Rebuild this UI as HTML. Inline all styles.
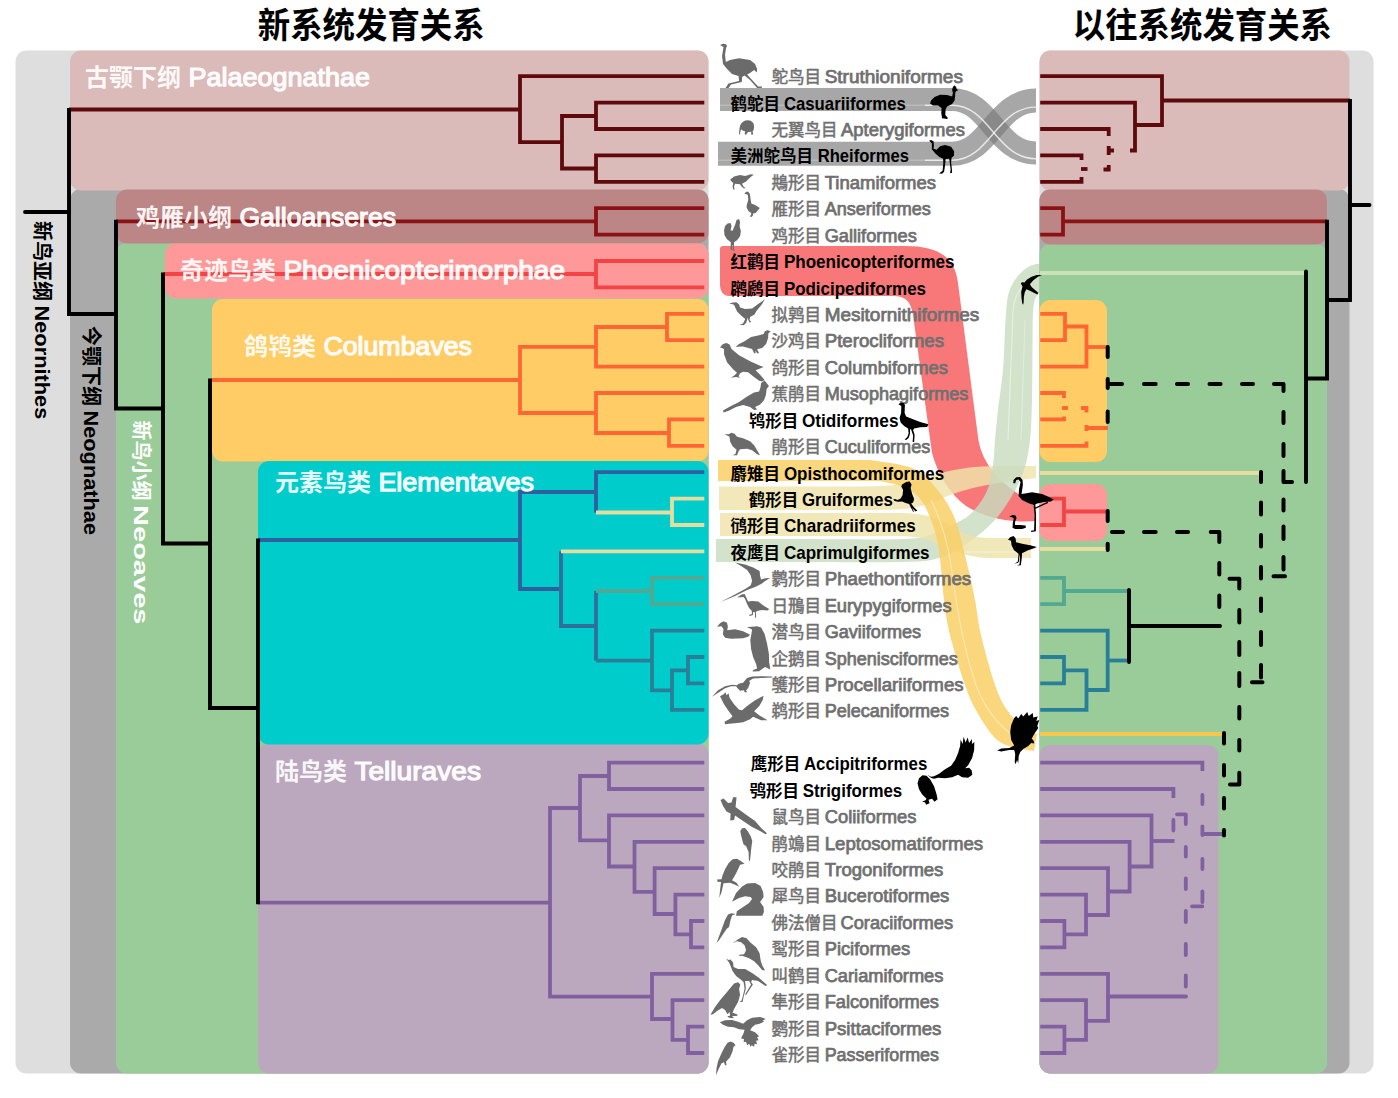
<!DOCTYPE html>
<html lang="zh"><head><meta charset="utf-8"><title>新系统发育关系 / 以往系统发育关系</title>
<style>
html,body{margin:0;padding:0;background:#fff;}
body{width:1398px;height:1098px;overflow:hidden;font-family:"Liberation Sans","Noto Sans CJK SC",sans-serif;}
svg{display:block;}
svg text{font-family:"Liberation Sans","Noto Sans CJK SC",sans-serif;}
</style></head><body>
<svg width="1398" height="1098" viewBox="0 0 1398 1098">
<g id="ribbons">
<g opacity="0.66"><path d="M720 99.5 H952 C990 99.5 996 153 1036 153" fill="none" stroke="#7a7a7a" stroke-width="23" stroke-linecap="butt" stroke-linejoin="round"/></g>
<g opacity="0.66"><path d="M718 153.7 H952 C990 153.7 996 100.5 1036 100.5" fill="none" stroke="#7a7a7a" stroke-width="24" stroke-linecap="butt" stroke-linejoin="round"/></g>
<path d="M925 105.2 H952 C990 105.2 996 158.7 1036 158.7" fill="none" stroke="#ffffff" stroke-width="1.4" stroke-linecap="butt" stroke-linejoin="round" stroke-opacity="0.75"/>
<path d="M925 160.3 H952 C990 160.3 996 107.1 1036 107.1" fill="none" stroke="#ffffff" stroke-width="1.4" stroke-linecap="butt" stroke-linejoin="round" stroke-opacity="0.75"/>
<path d="M720 105.2 H925" fill="none" stroke="#ffffff" stroke-width="1.4" stroke-linecap="butt" stroke-linejoin="round" stroke-opacity="0.22"/>
<path d="M718 160.3 H925" fill="none" stroke="#ffffff" stroke-width="1.4" stroke-linecap="butt" stroke-linejoin="round" stroke-opacity="0.22"/>
<path d="M723 246 H905 C940 246 955 258 958 283 L978 437 C981 460 995 478 1017 493 L1034 506 L1036 521 C1010 523 985 518 966 506 C950 494 938 475 932 453 L913 315 C911 301 905 296 893 296 H729 C723 296 720 291 720 284 V249 C720 247 721 246 723 246 Z" fill="#f8787a"/>
<path d="M719.0 486.5 C732.5 486.5 773.2 486.6 800.0 486.5 C826.8 486.4 860.8 486.8 880.0 486.0 C899.2 485.2 904.2 483.8 915.0 481.5 C925.8 479.2 935.0 474.4 945.0 472.0 C955.0 469.6 965.0 468.0 975.0 467.0 C985.0 466.0 994.8 466.2 1005.0 466.0 C1015.2 465.8 1030.8 466.0 1036.0 466.0 L1036.0 478.0 C1030.8 478.7 1015.2 480.4 1005.0 482.0 C994.8 483.6 984.2 485.3 975.0 487.5 C965.8 489.7 958.3 492.1 950.0 495.0 C941.7 497.9 934.2 502.6 925.0 505.0 C915.8 507.4 915.8 508.7 895.0 509.5 C874.2 510.3 829.3 509.9 800.0 510.0 C770.7 510.1 732.5 510.0 719.0 510.0 Z" fill="#efe3ab" fill-opacity="0.82"/>
<path d="M716.0 562.0 C730.0 562.0 769.3 562.0 800.0 562.0 C830.7 562.0 877.5 562.5 900.0 562.0 C922.5 561.5 924.7 561.5 935.0 559.0 C945.3 556.5 952.5 553.0 962.0 547.0 C971.5 541.0 983.8 531.3 992.0 523.0 C1000.2 514.7 1005.7 506.2 1011.0 497.4 C1016.3 488.6 1020.8 479.6 1024.0 470.0 C1027.2 460.4 1028.7 451.7 1030.0 440.0 C1031.3 428.3 1031.6 415.0 1032.0 400.0 C1032.4 385.0 1032.3 364.7 1032.5 350.0 C1032.7 335.3 1032.4 320.8 1033.0 312.0 C1033.6 303.2 1034.3 300.5 1036.0 297.0 C1037.7 293.5 1041.8 292.0 1043.0 291.0 L1043.0 263.5 C1040.8 263.9 1034.3 263.8 1030.0 266.0 C1025.7 268.2 1020.7 272.0 1017.0 277.0 C1013.3 282.0 1010.0 287.2 1008.0 296.0 C1006.0 304.8 1005.8 317.7 1005.0 330.0 C1004.2 342.3 1004.2 356.7 1003.0 370.0 C1001.8 383.3 999.3 398.3 998.0 410.0 C996.7 421.7 995.8 430.8 995.0 440.0 C994.2 449.2 994.3 456.5 993.0 465.0 C991.7 473.5 990.3 483.3 987.0 491.0 C983.7 498.7 977.7 506.3 973.0 511.4 C968.3 516.5 965.3 518.0 959.0 521.6 C952.7 525.2 944.0 530.1 935.0 533.0 C926.0 535.9 927.5 538.0 905.0 539.0 C882.5 540.0 831.5 539.0 800.0 539.0 C768.5 539.0 730.0 539.0 716.0 539.0 Z" fill="#c8dcc0" fill-opacity="0.82"/>
<path d="M1008 440 L1013 312 C1014 296 1021 284 1033 279" fill="none" stroke="#ffffff" stroke-width="1.2" stroke-linecap="butt" stroke-linejoin="round" stroke-opacity="0.45"/>
<path d="M1021 440 L1025 320" fill="none" stroke="#ffffff" stroke-width="1.0" stroke-linecap="butt" stroke-linejoin="round" stroke-opacity="0.35"/>
<g opacity="0.82"><path d="M720 524.5 H900 C925 524.5 935 530 945 535" fill="none" stroke="#efe3ab" stroke-width="23" stroke-linecap="butt" stroke-linejoin="round"/><path d="M920 527 C945 530 955 548 990 548 H1031" fill="none" stroke="#efe3ab" stroke-width="20" stroke-linecap="butt" stroke-linejoin="round"/></g>
<path d="M960 552 H1031" fill="none" stroke="#ffffff" stroke-width="1.2" stroke-linecap="butt" stroke-linejoin="round" stroke-opacity="0.45"/>
<path d="M718 460 L870.0 460.0 C877.2 461.4 902.0 463.8 913.0 468.5 C924.0 473.2 929.0 479.6 936.0 488.0 C943.0 496.4 949.7 505.7 955.0 519.0 C960.3 532.3 964.7 554.5 968.0 568.0 C971.3 581.5 972.8 588.8 975.0 600.0 C977.2 611.2 977.7 620.8 981.0 635.0 C984.3 649.2 990.7 672.5 995.0 685.0 C999.3 697.5 1002.5 703.2 1007.0 710.0 C1011.5 716.8 1017.0 722.0 1022.0 726.0 C1027.0 730.0 1034.5 732.7 1037.0 734.0 L1034.0 751.0 C1030.3 750.3 1018.5 749.2 1012.0 747.0 C1005.5 744.8 1000.8 743.8 995.0 738.0 C989.2 732.2 982.0 720.8 977.0 712.0 C972.0 703.2 969.5 697.8 965.0 685.0 C960.5 672.2 953.5 649.2 950.0 635.0 C946.5 620.8 945.5 611.2 944.0 600.0 C942.5 588.8 942.3 578.8 941.0 568.0 C939.7 557.2 939.0 545.8 936.0 535.0 C933.0 524.2 928.0 510.8 923.0 503.0 C918.0 495.2 913.2 491.7 906.0 488.0 C898.8 484.3 884.3 482.2 880.0 481.0 L718 481 Z" fill="#f9cf68" fill-opacity="0.86"/>
<path d="M931 500 C942 522 948 545 951 565 C956 600 961 640 976 685 C984 707 998 725 1015 737" fill="none" stroke="#ffffff" stroke-width="1.2" stroke-linecap="butt" stroke-linejoin="round" stroke-opacity="0.4"/>
</g>
<g id="boxes">
<rect x="15.5" y="50.5" width="693.0" height="1023.0" rx="11" fill="#dedede"/>
<rect x="70.0" y="189.0" width="638.5" height="884.5" rx="11" fill="#aaaaaa"/>
<rect x="70.0" y="50.5" width="638.5" height="140.0" rx="11" fill="#dbbaba"/>
<rect x="116.0" y="243.0" width="592.5" height="830.5" rx="11" fill="#99cc99"/>
<rect x="116.0" y="189.5" width="592.5" height="54.0" rx="11" fill="#bc8686"/>
<rect x="165.0" y="243.5" width="543.5" height="55.0" rx="11" fill="#ff9999"/>
<rect x="212.0" y="299.0" width="496.5" height="162.5" rx="11" fill="#ffcc66"/>
<rect x="258.0" y="743.5" width="450.5" height="330.0" rx="11" fill="#bca8be"/>
<rect x="258.0" y="461.0" width="450.5" height="283.5" rx="11" fill="#00cccc"/>
<rect x="1039.5" y="50.5" width="334.0" height="1023.0" rx="11" fill="#dedede"/>
<rect x="1039.5" y="189.0" width="310.0" height="884.5" rx="11" fill="#aaaaaa"/>
<rect x="1039.5" y="50.5" width="310.0" height="140.0" rx="11" fill="#dbbaba"/>
<rect x="1039.5" y="244.0" width="287.5" height="829.5" rx="11" fill="#99cc99"/>
<rect x="1039.5" y="189.5" width="287.5" height="55.0" rx="11" fill="#bc8686"/>
<rect x="1039.5" y="300.0" width="67.5" height="162.0" rx="11" fill="#ffcc66"/>
<rect x="1039.5" y="484.0" width="67.5" height="57.0" rx="11" fill="#ff9999"/>
<rect x="1039.5" y="745.0" width="179.0" height="328.5" rx="11" fill="#bca8be"/>
</g>
<g id="tree">
<path d="M69 109.5 H520" fill="none" stroke="#5e0a0c" stroke-width="3.8" stroke-linecap="butt" stroke-linejoin="miter"/>
<path d="M704.3 76.2 H520 V142.2 H562" fill="none" stroke="#5e0a0c" stroke-width="3.8" stroke-linecap="butt" stroke-linejoin="miter"/>
<path d="M596 116 H562 V168.5 H596" fill="none" stroke="#5e0a0c" stroke-width="3.8" stroke-linecap="butt" stroke-linejoin="miter"/>
<path d="M704.3 102.6 H596 V129.0 H704.3" fill="none" stroke="#5e0a0c" stroke-width="3.8" stroke-linecap="butt" stroke-linejoin="miter"/>
<path d="M704.3 155.4 H596 V181.8 H704.3" fill="none" stroke="#5e0a0c" stroke-width="3.8" stroke-linecap="butt" stroke-linejoin="miter"/>
<path d="M116 221.3 H596" fill="none" stroke="#8a1214" stroke-width="3.8" stroke-linecap="butt" stroke-linejoin="miter"/>
<path d="M704.3 208.2 H596 V234.6 H704.3" fill="none" stroke="#8a1214" stroke-width="3.8" stroke-linecap="butt" stroke-linejoin="miter"/>
<path d="M163 274 H596" fill="none" stroke="#f24444" stroke-width="3.8" stroke-linecap="butt" stroke-linejoin="miter"/>
<path d="M704.3 261.0 H596 V287.4 H704.3" fill="none" stroke="#f24444" stroke-width="3.8" stroke-linecap="butt" stroke-linejoin="miter"/>
<path d="M210 380 H520" fill="none" stroke="#ff6633" stroke-width="3.8" stroke-linecap="butt" stroke-linejoin="miter"/>
<path d="M596 346.8 H520 V413 H596" fill="none" stroke="#ff6633" stroke-width="3.8" stroke-linecap="butt" stroke-linejoin="miter"/>
<path d="M667 327 H596 V366.6 H704.3" fill="none" stroke="#ff6633" stroke-width="3.8" stroke-linecap="butt" stroke-linejoin="miter"/>
<path d="M704.3 313.8 H667 V340.2 H704.3" fill="none" stroke="#ff6633" stroke-width="3.8" stroke-linecap="butt" stroke-linejoin="miter"/>
<path d="M704.3 393.0 H596 V433 H669" fill="none" stroke="#ff6633" stroke-width="3.8" stroke-linecap="butt" stroke-linejoin="miter"/>
<path d="M704.3 419.4 H669 V445.8 H704.3" fill="none" stroke="#ff6633" stroke-width="3.8" stroke-linecap="butt" stroke-linejoin="miter"/>
<path d="M258 540 H520" fill="none" stroke="#2f5f9e" stroke-width="3.8" stroke-linecap="butt" stroke-linejoin="miter"/>
<path d="M596 492 H520 V589 H561" fill="none" stroke="#2f5f9e" stroke-width="3.8" stroke-linecap="butt" stroke-linejoin="miter"/>
<path d="M704.3 472.2 H596 V512.5" fill="none" stroke="#2f5f9e" stroke-width="3.8" stroke-linecap="butt" stroke-linejoin="miter"/>
<path d="M596 512.5 H672" fill="none" stroke="#e6dca0" stroke-width="3.8" stroke-linecap="butt" stroke-linejoin="miter"/>
<path d="M704.3 498.6 H672 V525.0 H704.3" fill="none" stroke="#e6dca0" stroke-width="3.8" stroke-linecap="butt" stroke-linejoin="miter"/>
<path d="M561 551.4 V626 H596" fill="none" stroke="#2f6f9c" stroke-width="3.8" stroke-linecap="butt" stroke-linejoin="miter"/>
<path d="M561 551.4 H704.3" fill="none" stroke="#e6dca0" stroke-width="3.8" stroke-linecap="butt" stroke-linejoin="miter"/>
<path d="M596 591 V660.6" fill="none" stroke="#2f6f9c" stroke-width="3.8" stroke-linecap="butt" stroke-linejoin="miter"/>
<path d="M596 591 H652" fill="none" stroke="#52a891" stroke-width="3.8" stroke-linecap="butt" stroke-linejoin="miter"/>
<path d="M704.3 577.8 H652 V604.2 H704.3" fill="none" stroke="#52a891" stroke-width="3.8" stroke-linecap="butt" stroke-linejoin="miter"/>
<path d="M596 660.6 H652" fill="none" stroke="#2a7f98" stroke-width="3.8" stroke-linecap="butt" stroke-linejoin="miter"/>
<path d="M704.3 630.6 H652 V690.4 H672" fill="none" stroke="#2a7f98" stroke-width="3.8" stroke-linecap="butt" stroke-linejoin="miter"/>
<path d="M688 670.3 H672 V709.8 H704.3" fill="none" stroke="#2a7f98" stroke-width="3.8" stroke-linecap="butt" stroke-linejoin="miter"/>
<path d="M704.3 657.0 H688 V683.4 H704.3" fill="none" stroke="#2a7f98" stroke-width="3.8" stroke-linecap="butt" stroke-linejoin="miter"/>
<path d="M258 902.6 H550" fill="none" stroke="#80609f" stroke-width="3.8" stroke-linecap="butt" stroke-linejoin="miter"/>
<path d="M580 808 H550 V996.7 H652" fill="none" stroke="#80609f" stroke-width="3.8" stroke-linecap="butt" stroke-linejoin="miter"/>
<path d="M609 776 H580 V840.4 H609" fill="none" stroke="#80609f" stroke-width="3.8" stroke-linecap="butt" stroke-linejoin="miter"/>
<path d="M704.3 762.6 H609 V789.0 H704.3" fill="none" stroke="#80609f" stroke-width="3.8" stroke-linecap="butt" stroke-linejoin="miter"/>
<path d="M704.3 815.4 H609 V866.5 H634.5" fill="none" stroke="#80609f" stroke-width="3.8" stroke-linecap="butt" stroke-linejoin="miter"/>
<path d="M704.3 841.8 H634.5 V891.8 H654.6" fill="none" stroke="#80609f" stroke-width="3.8" stroke-linecap="butt" stroke-linejoin="miter"/>
<path d="M704.3 868.2 H654.6 V914 H675.4" fill="none" stroke="#80609f" stroke-width="3.8" stroke-linecap="butt" stroke-linejoin="miter"/>
<path d="M704.3 894.6 H675.4 V934.3 H691" fill="none" stroke="#80609f" stroke-width="3.8" stroke-linecap="butt" stroke-linejoin="miter"/>
<path d="M704.3 921.0 H691 V947.4 H704.3" fill="none" stroke="#80609f" stroke-width="3.8" stroke-linecap="butt" stroke-linejoin="miter"/>
<path d="M704.3 973.8 H652 V1019 H672.5" fill="none" stroke="#80609f" stroke-width="3.8" stroke-linecap="butt" stroke-linejoin="miter"/>
<path d="M704.3 1000.2 H672.5 V1039.8 H688" fill="none" stroke="#80609f" stroke-width="3.8" stroke-linecap="butt" stroke-linejoin="miter"/>
<path d="M704.3 1026.6 H688 V1053.0 H704.3" fill="none" stroke="#80609f" stroke-width="3.8" stroke-linecap="butt" stroke-linejoin="miter"/>
<path d="M25 212 H69" fill="none" stroke="#000" stroke-width="3.9" stroke-linecap="round" stroke-linejoin="miter"/>
<path d="M69 108 V314 H116" fill="none" stroke="#000" stroke-width="3.9" stroke-linecap="butt" stroke-linejoin="miter"/>
<path d="M116 219.8 V408.5 H163" fill="none" stroke="#000" stroke-width="3.9" stroke-linecap="butt" stroke-linejoin="miter"/>
<path d="M163 272.5 V543.5 H210" fill="none" stroke="#000" stroke-width="3.9" stroke-linecap="butt" stroke-linejoin="miter"/>
<path d="M210 378.5 V708 H258" fill="none" stroke="#000" stroke-width="3.9" stroke-linecap="butt" stroke-linejoin="miter"/>
<path d="M258 538.5 V904.2" fill="none" stroke="#000" stroke-width="3.9" stroke-linecap="butt" stroke-linejoin="miter"/>
<path d="M1040.2 76.2 H1162 V125 H1135" fill="none" stroke="#5e0a0c" stroke-width="3.8" stroke-linecap="butt" stroke-linejoin="miter"/>
<path d="M1162 100.5 H1350" fill="none" stroke="#5e0a0c" stroke-width="3.8" stroke-linecap="butt" stroke-linejoin="miter"/>
<path d="M1040.2 102.6 H1135 V150.5 H1130" fill="none" stroke="#5e0a0c" stroke-width="3.8" stroke-linecap="butt" stroke-linejoin="miter"/>
<path d="M1040.2 129.0 H1108.7 V136" fill="none" stroke="#5e0a0c" stroke-width="3.8" stroke-linecap="butt" stroke-linejoin="miter"/>
<path d="M1108.7 146 V155 M1108.7 150.5 H1114" fill="none" stroke="#5e0a0c" stroke-width="3.8" stroke-linecap="butt" stroke-linejoin="miter"/>
<path d="M1108.7 165 V169.5 H1103.5" fill="none" stroke="#5e0a0c" stroke-width="3.8" stroke-linecap="butt" stroke-linejoin="miter"/>
<path d="M1040.2 155.4 H1081.5 V160" fill="none" stroke="#5e0a0c" stroke-width="3.8" stroke-linecap="butt" stroke-linejoin="miter"/>
<path d="M1081 169 H1087.5" fill="none" stroke="#5e0a0c" stroke-width="3.8" stroke-linecap="butt" stroke-linejoin="miter"/>
<path d="M1040.2 181.8 H1081.5 V177" fill="none" stroke="#5e0a0c" stroke-width="3.8" stroke-linecap="butt" stroke-linejoin="miter"/>
<path d="M1040.2 208.2 H1063 V234.6 H1040.2" fill="none" stroke="#8a1214" stroke-width="3.8" stroke-linecap="butt" stroke-linejoin="miter"/>
<path d="M1063 221.3 H1327" fill="none" stroke="#8a1214" stroke-width="3.8" stroke-linecap="butt" stroke-linejoin="miter"/>
<path d="M1040 273 H1305" fill="none" stroke="#c9e2b8" stroke-width="3.8" stroke-linecap="butt" stroke-linejoin="miter"/>
<path d="M1040.2 313.8 H1065 V340.2 H1040.2" fill="none" stroke="#ff6633" stroke-width="3.8" stroke-linecap="butt" stroke-linejoin="miter"/>
<path d="M1065 326.5 H1086.5 V366.6 H1040.2" fill="none" stroke="#ff6633" stroke-width="3.8" stroke-linecap="butt" stroke-linejoin="miter"/>
<path d="M1086.5 347 H1107" fill="none" stroke="#ff6633" stroke-width="3.8" stroke-linecap="butt" stroke-linejoin="miter"/>
<path d="M1040.2 393.0 H1064 V398" fill="none" stroke="#ff6633" stroke-width="3.8" stroke-linecap="butt" stroke-linejoin="miter"/>
<path d="M1040.2 419.4 H1064 V416.5" fill="none" stroke="#ff6633" stroke-width="3.8" stroke-linecap="butt" stroke-linejoin="miter"/>
<path d="M1062 408 H1068" fill="none" stroke="#ff6633" stroke-width="3.8" stroke-linecap="butt" stroke-linejoin="miter"/>
<path d="M1081 408 H1086.5 V412.5" fill="none" stroke="#ff6633" stroke-width="3.8" stroke-linecap="butt" stroke-linejoin="miter"/>
<path d="M1086.5 425 V431 M1086.5 428 H1108" fill="none" stroke="#ff6633" stroke-width="3.8" stroke-linecap="butt" stroke-linejoin="miter"/>
<path d="M1040.2 445.8 H1086.5 V441.5" fill="none" stroke="#ff6633" stroke-width="3.8" stroke-linecap="butt" stroke-linejoin="miter"/>
<path d="M1040 473 H1260" fill="none" stroke="#e6dca0" stroke-width="3.8" stroke-linecap="butt" stroke-linejoin="miter"/>
<path d="M1040 549 H1107" fill="none" stroke="#e6dca0" stroke-width="3.8" stroke-linecap="butt" stroke-linejoin="miter"/>
<path d="M1040.2 498.6 H1064 V525.0 H1040.2" fill="none" stroke="#f24444" stroke-width="3.8" stroke-linecap="butt" stroke-linejoin="miter"/>
<path d="M1064 511.5 H1107" fill="none" stroke="#f24444" stroke-width="3.8" stroke-linecap="butt" stroke-linejoin="miter"/>
<path d="M1040.2 577.8 H1064 V604.2 H1040.2" fill="none" stroke="#52a891" stroke-width="3.8" stroke-linecap="butt" stroke-linejoin="miter"/>
<path d="M1064 591 H1129" fill="none" stroke="#52a891" stroke-width="3.8" stroke-linecap="butt" stroke-linejoin="miter"/>
<path d="M1040.2 630.6 H1107.7 V690 H1086.5" fill="none" stroke="#2a7f98" stroke-width="3.8" stroke-linecap="butt" stroke-linejoin="miter"/>
<path d="M1107.7 660.5 H1129" fill="none" stroke="#2a7f98" stroke-width="3.8" stroke-linecap="butt" stroke-linejoin="miter"/>
<path d="M1040.2 657.0 H1064 V683.4 H1040.2" fill="none" stroke="#2a7f98" stroke-width="3.8" stroke-linecap="butt" stroke-linejoin="miter"/>
<path d="M1064 670.3 H1086.5 V709.8 H1040.2" fill="none" stroke="#2a7f98" stroke-width="3.8" stroke-linecap="butt" stroke-linejoin="miter"/>
<path d="M1040 734 H1223" fill="none" stroke="#f7c64e" stroke-width="3.8" stroke-linecap="butt" stroke-linejoin="miter"/>
<path d="M1040.2 762.6 H1202.4 V771" fill="none" stroke="#80609f" stroke-width="3.8" stroke-linecap="butt" stroke-linejoin="miter"/>
<path d="M1040.2 789.0 H1173.4 V798" fill="none" stroke="#80609f" stroke-width="3.8" stroke-linecap="butt" stroke-linejoin="miter"/>
<path d="M1040.2 815.4 H1151.5 V866.5 H1129.6" fill="none" stroke="#80609f" stroke-width="3.8" stroke-linecap="butt" stroke-linejoin="miter"/>
<path d="M1151.5 841 H1174.5" fill="none" stroke="#80609f" stroke-width="3.8" stroke-linecap="butt" stroke-linejoin="miter"/>
<path d="M1040.2 841.8 H1129.6 V891.5 H1108" fill="none" stroke="#80609f" stroke-width="3.8" stroke-linecap="butt" stroke-linejoin="miter"/>
<path d="M1040.2 868.2 H1108 V915 H1086" fill="none" stroke="#80609f" stroke-width="3.8" stroke-linecap="butt" stroke-linejoin="miter"/>
<path d="M1040.2 894.6 H1086 V934.3 H1064.4" fill="none" stroke="#80609f" stroke-width="3.8" stroke-linecap="butt" stroke-linejoin="miter"/>
<path d="M1040.2 921.0 H1064.4 V947.4 H1040.2" fill="none" stroke="#80609f" stroke-width="3.8" stroke-linecap="butt" stroke-linejoin="miter"/>
<path d="M1040.2 973.8 H1108 V1020.9 H1086" fill="none" stroke="#80609f" stroke-width="3.8" stroke-linecap="butt" stroke-linejoin="miter"/>
<path d="M1108 996.5 H1186" fill="none" stroke="#80609f" stroke-width="3.8" stroke-linecap="round" stroke-linejoin="miter"/>
<path d="M1040.2 1000.2 H1086 V1039.8 H1064.4" fill="none" stroke="#80609f" stroke-width="3.8" stroke-linecap="butt" stroke-linejoin="miter"/>
<path d="M1040.2 1026.6 H1064.4 V1053.0 H1040.2" fill="none" stroke="#80609f" stroke-width="3.8" stroke-linecap="butt" stroke-linejoin="miter"/>
<path d="M1202.4 795 L1202.4 804 M1202.4 826.5 L1202.4 835 M1202.4 834 L1223 834 M1202.4 859 L1202.4 869 M1202.4 891.5 L1202.4 902 M1192 906.3 L1202.4 906.3 M1173.4 820 L1173.4 830.5 M1177 814.3 L1185.8 814.3 M1185.8 814.3 L1185.8 824 M1185.8 847 L1185.8 856.5 M1185.8 878.5 L1185.8 889 M1185.8 911 L1185.8 922 M1185.8 944 L1185.8 955 M1185.8 975.5 L1185.8 986.5" fill="none" stroke="#80609f" stroke-width="3.8" stroke-linecap="round" stroke-linejoin="miter"/>
<path d="M1350 99 V300 H1327" fill="none" stroke="#000" stroke-width="3.9" stroke-linecap="butt" stroke-linejoin="miter"/>
<path d="M1350 205 H1369.5" fill="none" stroke="#000" stroke-width="3.9" stroke-linecap="round" stroke-linejoin="miter"/>
<path d="M1327 219.8 V378.5 H1306" fill="none" stroke="#000" stroke-width="3.9" stroke-linecap="butt" stroke-linejoin="miter"/>
<path d="M1306 271.5 V482" fill="none" stroke="#000" stroke-width="3.9" stroke-linecap="round" stroke-linejoin="miter"/>
<path d="M1129 590 V662" fill="none" stroke="#000" stroke-width="3.9" stroke-linecap="round" stroke-linejoin="miter"/>
<path d="M1129 626 H1220" fill="none" stroke="#000" stroke-width="3.9" stroke-linecap="round" stroke-linejoin="miter"/>
<path d="M1107.7 347 L1107.7 357 M1107.7 379 L1107.7 388 M1107.7 411.5 L1107.7 422 M1109 384 L1122 384 M1144 384 L1155.7 384 M1177 384 L1188 384 M1209.5 384 L1220.6 384 M1242 384 L1253 384 M1274 384 L1283.5 384 M1283.5 384 L1283.5 391 M1283.5 412 L1283.5 423 M1283.5 444 L1283.5 456 M1283.5 471 L1283.5 482 M1283.5 482 L1292 482 M1283.5 499.5 L1283.5 510.5 M1283.5 526.5 L1283.5 539 M1283.5 557 L1283.5 569.5 M1273.5 576.3 L1285 576.3 M1261 472 L1261 482 M1261 502.5 L1261 514.5 M1261 535 L1261 546.5 M1261 567 L1261 578.5 M1261 598.5 L1261 611 M1261 632 L1261 645 M1261 665 L1261 677.5 M1252 682.3 L1262.5 682.3 M1239.3 578.8 L1239.3 588.5 M1229.5 578.8 L1239.3 578.8 M1239.3 610 L1239.3 622.4 M1239.3 642 L1239.3 655 M1239.3 673 L1239.3 686 M1239.3 707 L1239.3 718.4 M1239.3 740 L1239.3 750.6 M1239.3 772.8 L1239.3 784.5 M1230 784.5 L1239.3 784.5 M1219.3 532 L1219.3 542 M1210.7 532 L1219.3 532 M1219.3 563 L1219.3 574.4 M1219.3 595.6 L1219.3 607 M1112 532 L1123 532 M1144 532 L1155.7 532 M1177 532 L1188 532 M1107.7 511 L1107.7 521 M1107.7 543.7 L1107.7 550 M1224 733 L1224 743.6 M1224 765 L1224 775.4 M1224 798 L1224 808.4 M1224 830 L1224 835.5" fill="none" stroke="#000" stroke-width="4.0" stroke-linecap="round" stroke-linejoin="miter"/>
</g>
<g id="labels">
<text x="771.4" y="83.1" font-size="16.5" fill="#707070" stroke="#707070" stroke-width="0.5">鸵鸟目</text>
<text x="824.7" y="83.1" font-size="17.490000000000002" font-weight="normal" fill="#707070" textLength="138.2" lengthAdjust="spacingAndGlyphs" stroke="#707070" stroke-width="0.75">Struthioniformes</text>
<text x="730.5" y="109.5" font-size="16.5" font-weight="bold" fill="#000">鹤鸵目</text>
<text x="783.9" y="109.5" font-size="17.490000000000002" font-weight="bold" fill="#000" textLength="121.9" lengthAdjust="spacingAndGlyphs">Casuariiformes</text>
<text x="771.4" y="136.0" font-size="16.5" fill="#707070" stroke="#707070" stroke-width="0.5">无翼鸟目</text>
<text x="841.0" y="136.0" font-size="17.490000000000002" font-weight="normal" fill="#707070" textLength="123.9" lengthAdjust="spacingAndGlyphs" stroke="#707070" stroke-width="0.75">Apterygiformes</text>
<text x="730.5" y="162.4" font-size="16.5" font-weight="bold" fill="#000">美洲鸵鸟目</text>
<text x="817.7" y="162.4" font-size="17.490000000000002" font-weight="bold" fill="#000" textLength="91.3" lengthAdjust="spacingAndGlyphs">Rheiformes</text>
<text x="771.4" y="188.8" font-size="16.5" fill="#707070" stroke="#707070" stroke-width="0.5">䳍形目</text>
<text x="824.7" y="188.8" font-size="17.490000000000002" font-weight="normal" fill="#707070" textLength="111.4" lengthAdjust="spacingAndGlyphs" stroke="#707070" stroke-width="0.75">Tinamiformes</text>
<text x="771.4" y="215.2" font-size="16.5" fill="#707070" stroke="#707070" stroke-width="0.5">雁形目</text>
<text x="824.7" y="215.2" font-size="17.490000000000002" font-weight="normal" fill="#707070" textLength="106.1" lengthAdjust="spacingAndGlyphs" stroke="#707070" stroke-width="0.75">Anseriformes</text>
<text x="771.4" y="241.7" font-size="16.5" fill="#707070" stroke="#707070" stroke-width="0.5">鸡形目</text>
<text x="824.7" y="241.7" font-size="17.490000000000002" font-weight="normal" fill="#707070" textLength="92.1" lengthAdjust="spacingAndGlyphs" stroke="#707070" stroke-width="0.75">Galliformes</text>
<text x="730.5" y="268.1" font-size="16.5" font-weight="bold" fill="#000">红鹳目</text>
<text x="783.9" y="268.1" font-size="17.490000000000002" font-weight="bold" fill="#000" textLength="170.7" lengthAdjust="spacingAndGlyphs">Phoenicopteriformes</text>
<text x="730.5" y="294.5" font-size="16.5" font-weight="bold" fill="#000">䴙䴘目</text>
<text x="783.9" y="294.5" font-size="17.490000000000002" font-weight="bold" fill="#000" textLength="142.1" lengthAdjust="spacingAndGlyphs">Podicipediformes</text>
<text x="771.4" y="321.0" font-size="16.5" fill="#707070" stroke="#707070" stroke-width="0.5">拟鹑目</text>
<text x="824.7" y="321.0" font-size="17.490000000000002" font-weight="normal" fill="#707070" textLength="154.5" lengthAdjust="spacingAndGlyphs" stroke="#707070" stroke-width="0.75">Mesitornithiformes</text>
<text x="771.4" y="347.4" font-size="16.5" fill="#707070" stroke="#707070" stroke-width="0.5">沙鸡目</text>
<text x="824.7" y="347.4" font-size="17.490000000000002" font-weight="normal" fill="#707070" textLength="119.4" lengthAdjust="spacingAndGlyphs" stroke="#707070" stroke-width="0.75">Pterocliformes</text>
<text x="771.4" y="373.8" font-size="16.5" fill="#707070" stroke="#707070" stroke-width="0.5">鸽形目</text>
<text x="824.7" y="373.8" font-size="17.490000000000002" font-weight="normal" fill="#707070" textLength="123.2" lengthAdjust="spacingAndGlyphs" stroke="#707070" stroke-width="0.75">Columbiformes</text>
<text x="771.4" y="400.3" font-size="16.5" fill="#707070" stroke="#707070" stroke-width="0.5">蕉鹃目</text>
<text x="824.7" y="400.3" font-size="17.490000000000002" font-weight="normal" fill="#707070" textLength="143.7" lengthAdjust="spacingAndGlyphs" stroke="#707070" stroke-width="0.75">Musophagiformes</text>
<text x="748.8" y="426.7" font-size="16.5" font-weight="bold" fill="#000">鸨形目</text>
<text x="801.9" y="426.7" font-size="17.490000000000002" font-weight="bold" fill="#000" textLength="96.6" lengthAdjust="spacingAndGlyphs">Otidiformes</text>
<text x="771.4" y="453.1" font-size="16.5" fill="#707070" stroke="#707070" stroke-width="0.5">鹃形目</text>
<text x="824.7" y="453.1" font-size="17.490000000000002" font-weight="normal" fill="#707070" textLength="105.6" lengthAdjust="spacingAndGlyphs" stroke="#707070" stroke-width="0.75">Cuculiformes</text>
<text x="730.5" y="479.5" font-size="16.5" font-weight="bold" fill="#000">麝雉目</text>
<text x="783.9" y="479.5" font-size="17.490000000000002" font-weight="bold" fill="#000" textLength="160.2" lengthAdjust="spacingAndGlyphs">Opisthocomiformes</text>
<text x="748.8" y="506.0" font-size="16.5" font-weight="bold" fill="#000">鹤形目</text>
<text x="801.9" y="506.0" font-size="17.490000000000002" font-weight="bold" fill="#000" textLength="90.9" lengthAdjust="spacingAndGlyphs">Gruiformes</text>
<text x="730.5" y="532.4" font-size="16.5" font-weight="bold" fill="#000">鸻形目</text>
<text x="783.9" y="532.4" font-size="17.490000000000002" font-weight="bold" fill="#000" textLength="131.9" lengthAdjust="spacingAndGlyphs">Charadriiformes</text>
<text x="730.5" y="558.8" font-size="16.5" font-weight="bold" fill="#000">夜鹰目</text>
<text x="783.9" y="558.8" font-size="17.490000000000002" font-weight="bold" fill="#000" textLength="145.7" lengthAdjust="spacingAndGlyphs">Caprimulgiformes</text>
<text x="771.4" y="585.3" font-size="16.5" fill="#707070" stroke="#707070" stroke-width="0.5">鹲形目</text>
<text x="824.7" y="585.3" font-size="17.490000000000002" font-weight="normal" fill="#707070" textLength="146.5" lengthAdjust="spacingAndGlyphs" stroke="#707070" stroke-width="0.75">Phaethontiformes</text>
<text x="771.4" y="611.7" font-size="16.5" fill="#707070" stroke="#707070" stroke-width="0.5">日鳽目</text>
<text x="824.7" y="611.7" font-size="17.490000000000002" font-weight="normal" fill="#707070" textLength="126.9" lengthAdjust="spacingAndGlyphs" stroke="#707070" stroke-width="0.75">Eurypygiformes</text>
<text x="771.4" y="638.1" font-size="16.5" fill="#707070" stroke="#707070" stroke-width="0.5">潜鸟目</text>
<text x="824.7" y="638.1" font-size="17.490000000000002" font-weight="normal" fill="#707070" textLength="96.4" lengthAdjust="spacingAndGlyphs" stroke="#707070" stroke-width="0.75">Gaviiformes</text>
<text x="771.4" y="664.6" font-size="16.5" fill="#707070" stroke="#707070" stroke-width="0.5">企鹅目</text>
<text x="824.7" y="664.6" font-size="17.490000000000002" font-weight="normal" fill="#707070" textLength="133.2" lengthAdjust="spacingAndGlyphs" stroke="#707070" stroke-width="0.75">Sphenisciformes</text>
<text x="771.4" y="691.0" font-size="16.5" fill="#707070" stroke="#707070" stroke-width="0.5">鹱形目</text>
<text x="824.7" y="691.0" font-size="17.490000000000002" font-weight="normal" fill="#707070" textLength="138.9" lengthAdjust="spacingAndGlyphs" stroke="#707070" stroke-width="0.75">Procellariiformes</text>
<text x="771.4" y="717.4" font-size="16.5" fill="#707070" stroke="#707070" stroke-width="0.5">鹈形目</text>
<text x="824.7" y="717.4" font-size="17.490000000000002" font-weight="normal" fill="#707070" textLength="124.4" lengthAdjust="spacingAndGlyphs" stroke="#707070" stroke-width="0.75">Pelecaniformes</text>
<text x="750.8" y="770.3" font-size="16.5" font-weight="bold" fill="#000">鹰形目</text>
<text x="803.9" y="770.3" font-size="17.490000000000002" font-weight="bold" fill="#000" textLength="123.4" lengthAdjust="spacingAndGlyphs">Accipitriformes</text>
<text x="749.6" y="796.7" font-size="16.5" font-weight="bold" fill="#000">鸮形目</text>
<text x="802.7" y="796.7" font-size="17.490000000000002" font-weight="bold" fill="#000" textLength="99.6" lengthAdjust="spacingAndGlyphs">Strigiformes</text>
<text x="771.4" y="823.1" font-size="16.5" fill="#707070" stroke="#707070" stroke-width="0.5">鼠鸟目</text>
<text x="824.7" y="823.1" font-size="17.490000000000002" font-weight="normal" fill="#707070" textLength="91.8" lengthAdjust="spacingAndGlyphs" stroke="#707070" stroke-width="0.75">Coliiformes</text>
<text x="771.4" y="849.6" font-size="16.5" fill="#707070" stroke="#707070" stroke-width="0.5">鹃鴗目</text>
<text x="824.7" y="849.6" font-size="17.490000000000002" font-weight="normal" fill="#707070" textLength="158.4" lengthAdjust="spacingAndGlyphs" stroke="#707070" stroke-width="0.75">Leptosomatiformes</text>
<text x="771.4" y="876.0" font-size="16.5" fill="#707070" stroke="#707070" stroke-width="0.5">咬鹃目</text>
<text x="824.7" y="876.0" font-size="17.490000000000002" font-weight="normal" fill="#707070" textLength="118.7" lengthAdjust="spacingAndGlyphs" stroke="#707070" stroke-width="0.75">Trogoniformes</text>
<text x="771.4" y="902.4" font-size="16.5" fill="#707070" stroke="#707070" stroke-width="0.5">犀鸟目</text>
<text x="824.7" y="902.4" font-size="17.490000000000002" font-weight="normal" fill="#707070" textLength="124.5" lengthAdjust="spacingAndGlyphs" stroke="#707070" stroke-width="0.75">Bucerotiformes</text>
<text x="771.4" y="928.9" font-size="16.5" fill="#707070" stroke="#707070" stroke-width="0.5">佛法僧目</text>
<text x="840.5" y="928.9" font-size="17.490000000000002" font-weight="normal" fill="#707070" textLength="112.5" lengthAdjust="spacingAndGlyphs" stroke="#707070" stroke-width="0.75">Coraciiformes</text>
<text x="771.4" y="955.3" font-size="16.5" fill="#707070" stroke="#707070" stroke-width="0.5">䴕形目</text>
<text x="824.7" y="955.3" font-size="17.490000000000002" font-weight="normal" fill="#707070" textLength="85.4" lengthAdjust="spacingAndGlyphs" stroke="#707070" stroke-width="0.75">Piciformes</text>
<text x="771.4" y="981.7" font-size="16.5" fill="#707070" stroke="#707070" stroke-width="0.5">叫鹤目</text>
<text x="824.7" y="981.7" font-size="17.490000000000002" font-weight="normal" fill="#707070" textLength="118.7" lengthAdjust="spacingAndGlyphs" stroke="#707070" stroke-width="0.75">Cariamiformes</text>
<text x="771.4" y="1008.1" font-size="16.5" fill="#707070" stroke="#707070" stroke-width="0.5">隼形目</text>
<text x="824.7" y="1008.1" font-size="17.490000000000002" font-weight="normal" fill="#707070" textLength="114.3" lengthAdjust="spacingAndGlyphs" stroke="#707070" stroke-width="0.75">Falconiformes</text>
<text x="771.4" y="1034.6" font-size="16.5" fill="#707070" stroke="#707070" stroke-width="0.5">鹦形目</text>
<text x="824.7" y="1034.6" font-size="17.490000000000002" font-weight="normal" fill="#707070" textLength="116.7" lengthAdjust="spacingAndGlyphs" stroke="#707070" stroke-width="0.75">Psittaciformes</text>
<text x="771.4" y="1061.0" font-size="16.5" fill="#707070" stroke="#707070" stroke-width="0.5">雀形目</text>
<text x="824.7" y="1061.0" font-size="17.490000000000002" font-weight="normal" fill="#707070" textLength="114.3" lengthAdjust="spacingAndGlyphs" stroke="#707070" stroke-width="0.75">Passeriformes</text>
<text x="85.0" y="85.5" font-size="24" font-weight="bold" fill="#fff" fill-opacity="0.93">古颚下纲</text>
<text x="188.4" y="85.5" font-size="25.44" font-weight="normal" fill="#fff" textLength="181.6" lengthAdjust="spacingAndGlyphs" fill-opacity="0.93" stroke="#fff" stroke-width="1.25" stroke-opacity="0.93">Palaeognathae</text>
<text x="136.0" y="226.0" font-size="24" font-weight="bold" fill="#fff" fill-opacity="0.93">鸡雁小纲</text>
<text x="239.4" y="226.0" font-size="25.44" font-weight="normal" fill="#fff" textLength="156.6" lengthAdjust="spacingAndGlyphs" fill-opacity="0.93" stroke="#fff" stroke-width="1.25" stroke-opacity="0.93">Galloanseres</text>
<text x="180.0" y="279.0" font-size="24" font-weight="bold" fill="#fff" fill-opacity="0.93">奇迹鸟类</text>
<text x="283.4" y="279.0" font-size="25.44" font-weight="normal" fill="#fff" textLength="281.6" lengthAdjust="spacingAndGlyphs" fill-opacity="0.93" stroke="#fff" stroke-width="1.25" stroke-opacity="0.93">Phoenicopterimorphae</text>
<text x="244.0" y="355.0" font-size="24" font-weight="bold" fill="#fff" fill-opacity="0.93">鸽鸨类</text>
<text x="323.4" y="355.0" font-size="25.44" font-weight="normal" fill="#fff" textLength="148.6" lengthAdjust="spacingAndGlyphs" fill-opacity="0.93" stroke="#fff" stroke-width="1.25" stroke-opacity="0.93">Columbaves</text>
<text x="275.0" y="491.0" font-size="24" font-weight="bold" fill="#fff" fill-opacity="0.93">元素鸟类</text>
<text x="378.4" y="491.0" font-size="25.44" font-weight="normal" fill="#fff" textLength="155.6" lengthAdjust="spacingAndGlyphs" fill-opacity="0.93" stroke="#fff" stroke-width="1.25" stroke-opacity="0.93">Elementaves</text>
<text x="275.0" y="780.0" font-size="24" font-weight="bold" fill="#fff" fill-opacity="0.93">陆鸟类</text>
<text x="354.4" y="780.0" font-size="25.44" font-weight="normal" fill="#fff" textLength="126.6" lengthAdjust="spacingAndGlyphs" fill-opacity="0.93" stroke="#fff" stroke-width="1.25" stroke-opacity="0.93">Telluraves</text>
<text transform="translate(257.8 38.4) scale(1 1.08)" font-size="32.4" font-weight="bold" fill="#000">新系统发育关系</text>
<text transform="translate(1072.8 38.4) scale(1 1.08)" font-size="32.4" font-weight="bold" fill="#000">以往系统发育关系</text>
<text transform="translate(35.4 305.5) rotate(90)" font-size="20" font-weight="bold" fill="#000" textLength="113.8" lengthAdjust="spacingAndGlyphs">Neornithes</text>
<text transform="translate(35.4 221.0) rotate(90)" font-size="20" font-weight="bold" fill="#000">新鸟亚纲</text>
<text transform="translate(84.4 410.5) rotate(90)" font-size="20" font-weight="bold" fill="#000" textLength="124.5" lengthAdjust="spacingAndGlyphs">Neognathae</text>
<text transform="translate(84.4 326.0) rotate(90)" font-size="20" font-weight="bold" fill="#000">今颚下纲</text>
<text transform="translate(133.9 505.0) rotate(90)" font-size="20" font-weight="bold" fill="#fff" textLength="119.5" lengthAdjust="spacingAndGlyphs">Neoaves</text>
<text transform="translate(133.9 420.5) rotate(90)" font-size="20" font-weight="bold" fill="#fff">新鸟小纲</text>
</g>
<g id="birds">
<path transform="translate(710 35) scale(0.10020)" fill="#6b6b6b" d="M100,100 L130,88 L160,92 L170,110 L160,130 L150,200 L158,270 L200,250 L290,232 L400,250 L450,290 L470,340 L468,375 L440,350 L400,380 L370,395 L420,450 L480,515 L520,515 L515,530 L470,528 L400,450 L345,405 L320,420 L318,470 L210,495 L185,530 L155,528 L185,485 L290,460 L285,410 L220,390 L170,340 L130,290 L120,210 L135,120 Z"/>
<path transform="translate(710 35) scale(0.10020)" fill="#6b6b6b" d="M300,905 Q320,850 380,850 Q440,855 440,915 Q440,950 425,960 L432,992 L410,992 L412,965 L380,968 L360,995 L345,990 L352,962 Q320,955 310,940 L295,995 L288,990 L295,930 Z"/>
<path transform="translate(900 75) scale(0.10020)" fill="#000" d="M545,103 L560,120 L565,140 L582,153 L562,160 L552,175 L550,215 L545,255 L520,290 L470,315 L455,345 L452,400 L478,428 L470,440 L420,432 L412,380 L415,330 L380,305 L330,305 L300,285 L310,255 L345,220 L400,198 L470,200 L520,215 L528,180 L520,150 L528,120 Z"/>
<path transform="translate(900 75) scale(0.10020)" fill="#000" d="M290,655 L310,648 L335,660 L338,700 L335,735 L365,745 L400,710 L450,698 L510,715 L540,760 L538,805 L515,825 L510,870 L518,940 L520,975 L500,980 L505,940 L495,860 L490,835 L455,838 L450,900 L440,965 L420,985 L390,982 L425,955 L432,880 L430,835 L390,815 L350,780 L318,740 L318,680 Z"/>
<path transform="translate(710 165) scale(0.10020)" fill="#6b6b6b" d="M200,148 L240,115 L300,100 L350,110 L385,100 L405,92 L438,97 L415,112 L390,135 L360,165 L320,188 L330,210 L352,230 L340,235 L312,212 L300,192 L250,188 L240,215 L245,245 L232,245 L225,215 L232,182 Z"/>
<path transform="translate(710 165) scale(0.10020)" fill="#6b6b6b" d="M343,287 L360,268 L382,268 L398,290 L405,340 L412,385 L450,400 L497,428 L480,450 L455,478 L430,485 L428,505 L415,520 L395,512 L410,498 L412,480 L385,462 L365,425 L368,395 L382,350 L378,300 L365,292 Z"/>
<path transform="translate(710 165) scale(0.10020)" fill="#6b6b6b" d="M140,650 L150,610 L175,585 L205,580 L215,610 L205,650 L225,655 L250,600 L265,550 L290,540 L300,570 L295,610 L308,660 L300,710 L270,750 L240,770 L238,840 L250,855 L225,850 L228,800 L222,800 L218,845 L205,850 L208,770 L170,740 L145,700 Z"/>
<path transform="translate(710 290) scale(0.10020)" fill="#6b6b6b" d="M190,133 L230,125 L265,122 L290,145 L300,175 L350,190 L420,185 L480,140 L548,93 L520,140 L460,215 L445,245 L400,270 L395,300 L412,320 L395,325 L380,295 L378,275 L360,330 L335,352 L295,345 L330,335 L352,290 L310,255 L270,215 L250,170 L240,148 Z"/>
<path transform="translate(710 290) scale(0.10020)" fill="#6b6b6b" d="M605,412 L575,402 L550,408 L535,440 L480,455 L410,470 L340,515 L290,540 L255,567 L330,565 L420,590 L440,630 L455,632 L452,605 L470,632 L490,632 L470,592 L520,580 L560,540 L580,480 L582,435 Z"/>
<path transform="translate(710 290) scale(0.10020)" fill="#6b6b6b" d="M100,572 L130,540 L165,528 L195,545 L215,590 L290,650 L400,710 L500,755 L535,768 L480,790 L455,800 L500,845 L545,898 L520,912 L490,905 L430,860 L380,822 L330,815 L300,830 L285,860 L300,875 L260,868 L210,875 L245,850 L270,825 L230,790 L170,720 L140,640 L140,590 Z"/>
<path transform="translate(710 370) scale(0.10020)" fill="#6b6b6b" d="M545,105 L588,160 L565,190 L558,250 L540,300 L500,345 L450,370 L470,395 L440,400 L400,370 L330,350 L260,370 L180,410 L135,425 L130,405 L200,365 L290,320 L370,265 L440,225 L490,215 L505,170 L510,130 Z"/>
<path transform="translate(710 370) scale(0.10020)" fill="#6b6b6b" d="M145,640 L185,640 L215,625 L245,635 L270,665 L330,680 L400,710 L440,750 L470,800 L500,850 L470,840 L420,800 L370,785 L300,790 L285,810 L270,850 L225,850 L255,835 L265,795 L225,760 L200,710 L195,665 Z"/>
<path transform="translate(850 395) scale(0.10020)" fill="#000" d="M483,92 L505,78 L535,80 L548,100 L545,180 L560,215 L610,235 L700,270 L782,292 L770,320 L700,322 L640,335 L630,350 L645,400 L640,470 L625,470 L630,405 L610,345 L600,340 L598,390 L585,430 L560,450 L545,445 L572,420 L585,385 L580,335 L540,310 L505,275 L495,230 L510,180 L512,110 Z"/>
<path transform="translate(850 465) scale(0.10020)" fill="#000" d="M520,195 L560,170 L595,165 L615,195 L605,230 L620,290 L640,340 L630,375 L610,385 L640,425 L672,455 L655,465 L620,430 L640,470 L628,465 L590,390 L555,380 L520,365 L480,368 L445,360 L430,345 L450,340 L475,350 L505,335 L525,300 L530,250 L512,215 Z"/>
<path transform="translate(980 240) scale(0.05737)" fill="#000" d="M712,748 L740,735 L775,742 L820,690 L900,640 L990,612 L1082,608 L1010,640 L930,700 L870,770 L900,820 L960,870 L1015,920 L1000,950 L940,920 L870,885 L810,860 L780,910 L765,990 L760,1098 L750,1130 L735,1098 L722,1000 L718,900 L740,810 L722,775 Z"/>
<path transform="translate(990 465) scale(0.10020)" fill="#000" d="M232,180 L235,150 L262,122 L300,120 L325,150 L328,200 L315,290 L350,285 L420,272 L520,290 L600,325 L635,345 L610,365 L540,370 L470,385 L452,395 L460,500 L458,660 L410,668 L410,655 L440,650 L445,500 L435,400 L380,380 L320,350 L285,310 L290,240 L305,170 L285,145 L262,150 L250,185 Z M440,430 L575,368 L580,378 L450,440 Z"/>
<path transform="translate(990 465) scale(0.10020)" fill="#000" d="M192,514 L225,500 L255,505 L265,530 L250,570 L250,600 L300,598 L355,605 L358,625 L320,638 L250,638 L225,625 L228,575 L238,535 L220,522 Z"/>
<path transform="translate(990 465) scale(0.10020)" fill="#000" d="M180,745 L200,720 L235,708 L255,730 L260,770 L320,785 L400,800 L468,818 L440,832 L380,850 L320,880 L318,920 L308,1000 L270,1003 L295,990 L300,920 L295,890 L290,960 L280,975 L245,985 L278,962 L285,885 L240,850 L215,800 L210,755 Z"/>
<path transform="translate(905 700) scale(0.10020)" fill="#000" d="M920,505 L960,485 L1040,478 L1090,455 L1060,400 L1050,320 L1060,250 L1090,180 L1110,160 L1130,185 L1160,140 L1180,165 L1220,120 L1235,160 L1275,130 L1280,175 L1325,165 L1310,210 L1340,200 L1320,260 L1330,280 L1290,340 L1265,385 L1285,410 L1290,435 L1260,430 L1230,460 L1180,490 L1150,520 L1135,560 L1130,630 L1118,600 L1105,640 L1095,620 L1100,540 L1090,500 L1040,500 L960,515 Z"/>
<path transform="translate(905 700) scale(0.10020)" fill="#000" d="M222,745 L260,765 L290,760 L340,735 L400,690 L460,655 L500,600 L530,530 L550,460 L555,395 L575,440 L585,368 L605,425 L625,375 L640,430 L668,390 L668,440 L692,420 L690,500 L670,580 L630,650 L600,680 L640,675 L665,700 L672,745 L630,775 L570,770 L530,745 L470,770 L400,780 L330,775 L290,785 L262,778 Z"/>
<path transform="translate(905 700) scale(0.10020)" fill="#000" d="M125,830 L140,780 L175,750 L215,755 L250,790 L290,860 L315,940 L325,990 L295,1015 L270,985 L235,995 L245,1030 L210,1045 L200,1020 L170,1015 L205,1000 L215,985 L170,940 L140,890 Z"/>
<path transform="translate(705 555) scale(0.10020)" fill="#6b6b6b" d="M300,75 L400,95 L480,125 L545,160 L550,210 L560,245 L600,232 L650,230 L600,260 L560,290 L500,320 L420,350 L300,410 L150,472 L290,400 L400,340 L455,305 L470,260 L455,200 L420,150 L360,110 Z"/>
<path transform="translate(705 555) scale(0.10020)" fill="#6b6b6b" d="M320,425 L365,395 L395,390 L410,420 L430,465 L470,460 L530,465 L590,510 L640,540 L625,555 L570,550 L520,560 L508,570 L510,625 L500,625 L498,572 L480,568 L478,598 L445,608 L440,600 L468,590 L468,560 L440,530 L420,490 L400,440 L385,420 Z"/>
<path transform="translate(705 555) scale(0.10020)" fill="#6b6b6b" d="M120,717 L150,680 L185,660 L220,675 L228,715 L222,750 L300,742 L380,760 L450,795 L430,815 L380,832 L260,835 L200,825 L178,790 L185,740 L165,712 Z"/>
<path transform="translate(705 620) scale(0.10020)" fill="#6b6b6b" d="M418,70 L470,68 L520,62 L560,75 L595,140 L620,240 L638,340 L640,420 L652,495 L600,470 L570,490 L540,512 L475,515 L480,498 L520,485 L510,440 L480,370 L460,290 L452,200 L465,130 L470,95 Z"/>
<path transform="translate(705 620) scale(0.10020)" fill="#6b6b6b" d="M70,765 L130,700 L200,660 L270,645 L320,650 L335,635 L380,625 L420,580 L470,565 L560,562 L670,563 L670,575 L560,578 L480,585 L440,610 L450,625 L430,680 L410,700 L420,720 L395,722 L390,700 L350,705 L325,680 L310,662 L260,662 L200,680 L140,720 Z"/>
<path transform="translate(705 620) scale(0.10020)" fill="#6b6b6b" d="M150,760 L185,740 L205,720 L215,750 L235,730 L245,775 L290,840 L340,895 L370,900 L430,850 L500,800 L585,755 L575,800 L540,860 L490,910 L540,950 L625,1000 L560,1000 L480,965 L450,990 L380,1020 L300,1030 L240,1035 L200,1040 L195,1015 L250,985 L275,960 L230,900 L190,840 L165,790 Z"/>
<path transform="translate(705 790) scale(0.10020)" fill="#6b6b6b" d="M155,100 L185,85 L230,130 L265,125 L280,72 L315,72 L305,170 L400,240 L500,310 L560,380 L618,432 L605,442 L540,405 L470,370 L380,310 L300,255 L290,300 L252,305 L255,235 L215,215 L180,160 Z"/>
<path transform="translate(705 790) scale(0.10020)" fill="#6b6b6b" d="M352,410 L370,382 L400,378 L425,410 L455,460 L472,510 L462,580 L455,650 L448,712 L438,700 L435,620 L410,560 L385,545 L372,500 L360,450 Z"/>
<path transform="translate(705 790) scale(0.10020)" fill="#6b6b6b" d="M395,735 L360,710 L320,685 L275,692 L235,730 L200,790 L175,850 L165,890 L120,893 L125,915 L160,918 L150,1000 L143,1075 L165,1020 L185,930 L250,925 L300,945 L340,965 L315,925 L270,900 L300,850 L330,790 L350,745 Z"/>
<path transform="translate(705 870) scale(0.10020)" fill="#6b6b6b" d="M270,318 L310,230 L370,165 L420,135 L500,130 L555,160 L580,220 L585,270 L550,320 L585,370 L588,420 L572,457 L310,457 L318,412 L380,370 L440,330 L470,290 L455,270 L400,262 L340,280 Z"/>
<path transform="translate(705 870) scale(0.10020)" fill="#6b6b6b" d="M115,728 L160,610 L200,500 L230,445 L260,432 L305,440 L270,455 L255,500 L240,570 L215,590 L180,640 L140,700 Z"/>
<path transform="translate(705 870) scale(0.10020)" fill="#6b6b6b" d="M280,730 L330,690 L370,668 L415,680 L450,720 L510,770 L545,830 L555,900 L570,950 L600,1003 L570,998 L530,950 L490,910 L440,880 L400,865 L370,855 L340,858 L345,845 L390,840 L410,800 L395,750 L360,720 L320,712 Z"/>
<path transform="translate(705 950) scale(0.10020)" fill="#6b6b6b" d="M210,85 L235,100 L255,95 L280,125 L285,170 L330,190 L400,190 L470,230 L540,280 L620,350 L605,360 L530,310 L470,300 L460,320 L478,345 L410,450 L400,445 L460,345 L440,310 L400,310 L408,385 L385,470 L375,520 L345,520 L365,505 L378,460 L395,385 L385,320 L350,290 L310,260 L275,210 L255,160 L240,125 Z"/>
<path transform="translate(705 950) scale(0.10020)" fill="#6b6b6b" d="M290,335 L330,322 L352,345 L340,390 L350,450 L330,520 L290,590 L275,625 L320,640 L325,655 L270,660 L290,680 L240,675 L222,660 L250,655 L245,620 L225,640 L200,600 L170,580 L120,610 L80,640 L55,645 L100,570 L160,490 L220,420 L265,365 Z"/>
<path transform="translate(705 950) scale(0.10020)" fill="#6b6b6b" d="M148,722 L200,700 L270,698 L330,715 L380,735 L420,700 L470,675 L550,668 L605,688 L575,705 L590,715 L545,735 L500,745 L470,770 L450,800 L500,820 L540,860 L520,870 L535,900 L510,905 L520,940 L495,935 L490,965 L465,950 L455,965 L440,935 L420,950 L410,915 L385,920 L390,890 L360,880 L385,830 L395,795 L340,790 L290,770 L230,765 L180,745 Z"/>
<path transform="translate(705 950) scale(0.10020)" fill="#6b6b6b" d="M305,950 L285,925 L255,912 L225,925 L195,970 L160,1040 L130,1110 L115,1180 L110,1250 L135,1190 L165,1130 L190,1120 L200,1150 L215,1150 L210,1115 L250,1070 L275,1010 L285,965 Z"/>
</g>
</svg>
</body></html>
